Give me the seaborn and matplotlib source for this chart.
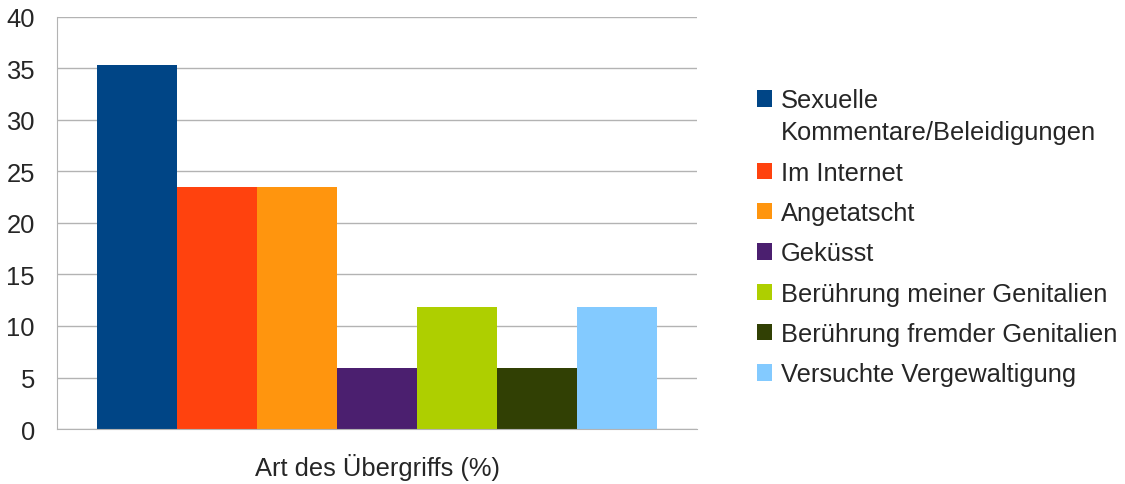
import pandas as pd
import seaborn as sns
import matplotlib.pyplot as plt

categories = ['Sexuelle\nKommentare/Beleidigungen', 'Im Internet', 'Angetatscht', 'Geküsst',
              'Berührung meiner Genitalien', 'Berührung fremder Genitalien',
              'Versuchte Vergewaltigung']
values = [35.3, 23.5, 23.5, 5.9, 11.8, 5.9, 11.8]
colors = ['#004586', '#ff420e', '#ff950e', '#4b1f6f', '#aecf00', '#314004', '#83caff']
group = 'Art des Übergriffs (%)'

df = pd.DataFrame({'group': [group] * len(values), 'Art': categories, 'Wert': values})

sns.set_style('white')
plt.rcParams['font.family'] = ['Liberation Sans', 'DejaVu Sans']

fig = plt.figure(figsize=(11.25, 4.85), dpi=100)
ax = fig.add_axes([0.0507, 0.1134, 0.569, 0.8495])

sns.barplot(data=df, x='group', y='Wert', hue='Art', hue_order=categories,
            palette=colors, width=0.875, saturation=1, dodge=True, ax=ax,
            legend=True, edgecolor='none', linewidth=0)

ax.set_xlim(-0.5, 0.5)
ax.set_ylim(0, 40)
ax.set_yticks(range(0, 41, 5))
ax.yaxis.grid(True, color='#b3b3b3', linewidth=1)
ax.set_axisbelow(True)
ax.set_xticks([-0.5, 0.5])
ax.set_xticklabels(['', ''])
ax.set_xlabel(group, fontsize=18.4, labelpad=4)
ax.set_ylabel('')
ax.tick_params(axis='y', labelsize=18.4, length=12, color='#b3b3b3', pad=4)
ax.tick_params(axis='x', length=10, color='#b3b3b3')
for s in ['top', 'right']:
    ax.spines[s].set_visible(False)
ax.spines['left'].set_color('#b3b3b3')
ax.spines['bottom'].set_color('#b3b3b3')

handles, labels = ax.get_legend_handles_labels()
ax.get_legend().remove()
leg = fig.legend(handles, labels, loc='center left', bbox_to_anchor=(0.652, 0.509),
                 frameon=False, fontsize=18.4, handlelength=0.6, handleheight=0.6,
                 handletextpad=0.35, labelspacing=0.64)
leg.get_texts()[0].set_linespacing(1.45)
# put the first square next to the first line of its two-line label
first = leg.legend_handles[0]
first.set_y(first.get_y() + 13)

fig.savefig('out.png', dpi=100)
